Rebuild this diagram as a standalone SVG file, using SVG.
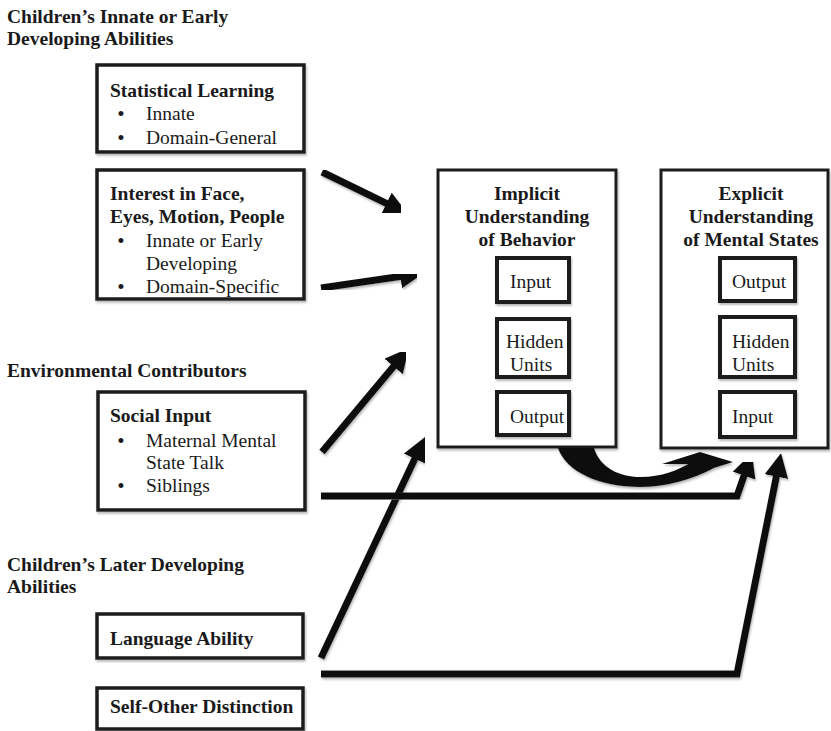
<svg xmlns="http://www.w3.org/2000/svg" width="831" height="731" viewBox="0 0 831 731">
<defs>
<filter id="sh" x="-5%" y="-5%" width="110%" height="115%">
<feDropShadow dx="1" dy="2" stdDeviation="0.8" flood-color="#888" flood-opacity="0.6"/>
</filter>
<marker id="ah" markerUnits="userSpaceOnUse" markerWidth="26" markerHeight="24" refX="12" refY="12" orient="auto">
<path d="M0,0 L24,12 L0,24 Z" fill="#111"/>
</marker>
</defs>
<style>
text{font-family:"Liberation Serif","Times New Roman",serif;font-size:19.5px;fill:#1a1a1a}
.b{font-weight:bold}
.c{text-anchor:middle}
.bl{text-anchor:middle;font-size:21px}
.box{fill:#fff;stroke:#1a1a1a;stroke-width:3.5;filter:url(#sh)}
.main{fill:#fff;stroke:#1a1a1a;stroke-width:3;filter:url(#sh)}
.inner{fill:#fff;stroke:#1a1a1a;stroke-width:4;filter:url(#sh)}
.ln{fill:none;stroke:#111;stroke-width:7;filter:url(#sh)}
</style>
<rect width="831" height="731" fill="#fff"/>

<g id="headings">
<text class="b" x="7" y="23">Children’s Innate or Early</text>
<text class="b" x="7" y="45">Developing Abilities</text>
<text class="b" x="7" y="377">Environmental Contributors</text>
<text class="b" x="7" y="571">Children’s Later Developing</text>
<text class="b" x="7" y="593">Abilities</text>
</g>

<g id="statistical-learning">
<rect class="box" x="97" y="65" width="207" height="87"/>
<text class="b" x="110" y="97">Statistical Learning</text>
<text class="bl" x="121" y="121">•</text><text x="146" y="120">Innate</text>
<text class="bl" x="121" y="145">•</text><text x="146" y="144">Domain-General</text>
</g>

<g id="interest">
<rect class="box" x="97" y="170" width="207" height="129"/>
<text class="b" x="110" y="200">Interest in Face,</text>
<text class="b" x="110" y="223">Eyes, Motion, People</text>
<text class="bl" x="121" y="248">•</text><text x="146" y="247">Innate or Early</text>
<text x="146" y="270">Developing</text>
<text class="bl" x="121" y="294">•</text><text x="146" y="293">Domain-Specific</text>
</g>

<g id="social-input">
<rect class="box" x="98" y="392" width="207" height="118"/>
<text class="b" x="110" y="422">Social Input</text>
<text class="bl" x="121" y="448">•</text><text x="146" y="447">Maternal Mental</text>
<text x="146" y="469">State Talk</text>
<text class="bl" x="121" y="493">•</text><text x="146" y="492">Siblings</text>
</g>

<g id="language-ability">
<rect class="box" x="97" y="614" width="206" height="44"/>
<text class="b" x="110" y="645">Language Ability</text>
</g>

<g id="self-other">
<rect class="box" x="97" y="688" width="206" height="41"/>
<text class="b" x="110" y="713">Self-Other Distinction</text>
</g>

<g id="implicit">
<rect class="main" x="438" y="170" width="178" height="277"/>
<text class="b c" x="527" y="200">Implicit</text>
<text class="b c" x="527" y="223">Understanding</text>
<text class="b c" x="527" y="246">of Behavior</text>
<rect class="inner" x="497" y="258" width="72" height="44"/>
<text x="510" y="288">Input</text>
<rect class="inner" x="497" y="319" width="72" height="58"/>
<text x="506" y="348">Hidden</text>
<text x="510" y="371">Units</text>
<rect class="inner" x="497" y="392" width="72" height="43"/>
<text x="510" y="423">Output</text>
</g>

<g id="explicit">
<rect class="main" x="661" y="170" width="167" height="278"/>
<text class="b c" x="751" y="200">Explicit</text>
<text class="b c" x="751" y="223">Understanding</text>
<text class="b c" x="751" y="246">of Mental States</text>
<rect class="inner" x="720" y="258" width="75" height="43"/>
<text x="732" y="288">Output</text>
<rect class="inner" x="720" y="317" width="75" height="60"/>
<text x="732" y="348">Hidden</text>
<text x="732" y="371">Units</text>
<rect class="inner" x="720" y="392" width="75" height="45"/>
<text x="732" y="423">Input</text>
</g>

<g id="connectors">
<line class="ln" x1="322" y1="172" x2="397.2" y2="208.7" marker-end="url(#ah)"/>
<line class="ln" x1="321" y1="288" x2="412.1" y2="274.7" marker-end="url(#ah)"/>
<line class="ln" x1="322" y1="452" x2="401.3" y2="357.2" marker-end="url(#ah)"/>
<line class="ln" x1="321" y1="658" x2="419.9" y2="447.9" marker-end="url(#ah)"/>
<polyline class="ln" points="321,496 737,496 748,464.3" marker-end="url(#ah)"/>
<polyline class="ln" points="321,674 737,674 778.7,464.8" marker-end="url(#ah)"/>
<path d="M558,448 L594,448 C600,468 620,477 640,477 C662,477 678,470 688,464 L662,464 L700,452 L733,462 L714,468 C692,480 665,487 640,487 C600,487 566,472 558,448 Z" fill="#111" filter="url(#sh)"/>
</g>
</svg>
